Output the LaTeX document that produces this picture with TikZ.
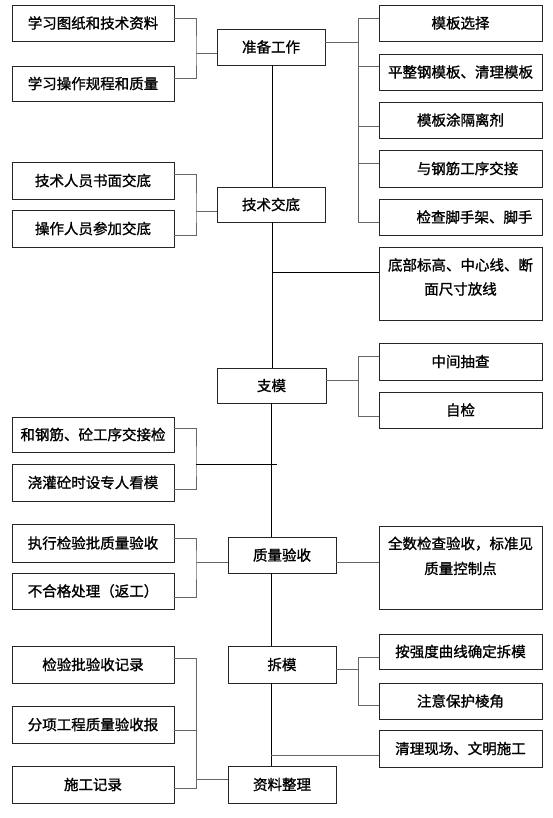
\documentclass[tikz,border=0pt]{standalone}
\usepackage{fontspec}
\setmainfont{Noto Sans CJK SC}[FakeBold=1.2]
\begin{document}
\begin{tikzpicture}[x=1pt,y=-1pt,
  box/.style={draw=black!85,line width=0.9pt,inner sep=0pt,font=\fontsize{14.5}{18}\selectfont},
  lbox/.style={box,minimum width=162pt},
  cbox/.style={box,minimum width=108pt},
  rbox/.style={box,minimum width=163pt},
  conn/.style={draw=black!60,line width=0.9pt},
  mainln/.style={draw=black,line width=0.9pt}]
\useasboundingbox[fill=white] (0,0) rectangle (553,818);

% ---------- left boxes ----------
\node[lbox,minimum height=36pt] (L1) at (93,23) {学习图纸和技术资料};
\node[lbox,minimum height=35pt] (L2) at (93,83.5) {学习操作规程和质量};
\node[lbox,minimum height=37pt] (L3) at (93,180.5) {技术人员书面交底};
\node[lbox,minimum height=37pt] (L4) at (93,228.5) {操作人员参加交底};
\node[lbox,minimum height=35pt] (L5) at (93,434.5) {和钢筋、砼工序交接检};
\node[lbox,minimum height=37pt] (L6) at (93,482.5) {浇灌砼时设专人看模};
\node[lbox,minimum height=38pt] (L7) at (93,543) {执行检验批质量验收};
\node[lbox,minimum height=36pt] (L8) at (93,591) {不合格处理（返工）};
\node[lbox,minimum height=37pt] (L9) at (93,664.5) {检验批验收记录};
\node[lbox,minimum height=37pt] (L10) at (93,724.5) {分项工程质量验收报};
\node[lbox,minimum height=37pt] (L11) at (93,784.5) {施工记录};

% ---------- centre boxes ----------
\node[cbox,minimum height=36pt] (C1) at (271,47) {准备工作};
\node[cbox,minimum height=35pt] (C2) at (271,204.5) {技术交底};
\node[cbox,minimum width=109pt,minimum height=35pt] (C3) at (271.5,385.5) {支模};
\node[cbox,minimum height=36pt] (C4) at (282,555) {质量验收};
\node[cbox,minimum height=37pt] (C5) at (282,664.5) {拆模};
\node[cbox,minimum height=37pt] (C6) at (282,784.5) {资料整理};

% ---------- right boxes ----------
\node[rbox,minimum height=36pt] (R1) at (460.5,23) {模板选择};
\node[rbox,minimum height=36pt] (R2) at (460.5,72) {平整钢模板、清理模板};
\node[rbox,minimum height=36pt] (R3) at (460.5,120) {模板涂隔离剂};
\node[rbox,minimum height=37pt] (R4) at (460.5,168.5) {\hspace*{14pt}与钢筋工序交接};
\node[rbox,minimum height=36pt] (R5) at (460.5,217) {\hspace*{28pt}检查脚手架、脚手};
\node[rbox,minimum height=73pt] (R6) at (460.5,283.5)
  {\parbox[c][73pt][t]{163pt}{\centering\fontsize{14.5}{24}\selectfont\rule{0pt}{23.5pt}底部标高、中心线、断\\面尺寸放线}};
\node[rbox,minimum height=37pt] (R7) at (460.5,361.5) {中间抽查};
\node[rbox,minimum height=36pt] (R8) at (460.5,410) {自检};
\node[rbox,minimum height=83pt] (R9) at (460.5,567.5)
  {\parbox[c][83pt][t]{163pt}{\centering\fontsize{14.5}{25}\selectfont\rule{0pt}{23pt}全数检查验收，标准见\\质量控制点}};
\node[rbox,minimum height=35pt] (R10) at (460.5,651.5) {按强度曲线确定拆模};
\node[rbox,minimum height=36pt] (R11) at (460.5,701) {注意保护棱角};
\node[rbox,minimum height=37pt] (R12) at (460.5,748.5) {清理现场、文明施工};

% ---------- guide coordinates ----------
\coordinate (mxt) at (272,0);
\coordinate (mxb) at (271,0);
\coordinate (bl) at (196,0);
\coordinate (br) at (358,0);

% ---------- main spine ----------
\draw[mainln] (C1.south -| mxt) -- (C2.north -| mxt);
\draw[mainln] (C2.south -| mxt) -- (C3.north -| mxt);
\draw[mainln] (C3.south -| mxb) -- (C4.north -| mxb);
\draw[mainln] (C4.south -| mxb) -- (C5.north -| mxb);
\draw[mainln] (C5.south -| mxb) -- (C6.north -| mxb);

% ---------- left group 1 ----------
\coordinate (l1) at ([yshift=5pt]L1.east);
\coordinate (l2) at ([yshift=5.5pt]L2.east);
\coordinate (c1l) at ([yshift=-6pt]C1.west);
\draw[conn] (l1) -| (c1l -| bl) |- (l2);
\draw[conn] (c1l -| bl) -- (c1l);

% ---------- left group 2 ----------
\coordinate (l3) at ([yshift=6.5pt]L3.east);
\coordinate (l4) at ([yshift=-6.5pt]L4.east);
\coordinate (c2l) at ([yshift=-6.5pt]C2.west);
\draw[conn] (l3) -| (c2l -| bl) |- (l4);
\draw[conn] (c2l -| bl) -- (c2l);

% ---------- left group 3 ----------
\coordinate (l5) at ([yshift=6.5pt]L5.east);
\coordinate (l6) at ([yshift=-6.5pt]L6.east);
\coordinate (sp) at (277,464);
\draw[conn] (l5) -| (sp -| bl) |- (l6);
\draw[mainln] (sp -| bl) -- (sp);

% ---------- left group 4 ----------
\coordinate (l7) at ([yshift=5pt]L7.east);
\coordinate (l8) at ([yshift=-6pt]L8.east);
\coordinate (c4l) at ([yshift=-7pt]C4.west);
\draw[conn] (l7) -| (c4l -| bl) |- (l8);
\draw[conn] (c4l -| bl) -- (c4l);

% ---------- left group 5 ----------
\coordinate (l9) at ([yshift=6.5pt]L9.east);
\coordinate (l10) at ([yshift=-5.5pt]L10.east);
\coordinate (l11) at ([yshift=-3.5pt]L11.east);
\coordinate (c6l) at ([yshift=5.5pt]C6.west);
\draw[conn] (l9) -| (l11 -| bl) -- (l11);
\draw[conn] (l10) -- (l10 -| bl);
\draw[conn] (c6l -| bl) -- (c6l);

% ---------- right group 1 ----------
\coordinate (c1r) at ([yshift=5pt]C1.east);
\coordinate (r1) at ([yshift=5pt]R1.west);
\coordinate (r2) at ([yshift=6pt]R2.west);
\coordinate (r3) at ([yshift=-6pt]R3.west);
\coordinate (r4) at ([yshift=5.5pt]R4.west);
\coordinate (r5) at ([yshift=-5pt]R5.west);
\draw[conn] (c1r) -- (c1r -| br);
\draw[conn] (r1) -| (r5 -| br) -- (r5);
\draw[conn] (r2) -- (r2 -| br);
\draw[conn] (r3) -- (r3 -| br);
\draw[conn] (r4) -- (r4 -| br);

% ---------- R6 ----------
\coordinate (r6) at ([yshift=11.5pt]R6.west);
\draw[mainln] (r6 -| mxt) -- (r6);

% ---------- right group 2 ----------
\coordinate (c3r) at ([yshift=5.5pt]C3.east);
\coordinate (r7) at ([yshift=5.5pt]R7.west);
\coordinate (r8) at ([yshift=-6pt]R8.west);
\draw[conn] (c3r) -- (c3r -| br);
\draw[conn] (r7) -| (r8 -| br) -- (r8);

% ---------- R9 ----------
\coordinate (c4r) at ([yshift=-7pt]C4.east);
\draw[conn] (c4r) -- (c4r -| R9.west);

% ---------- right group 3 ----------
\coordinate (c5r) at ([yshift=-4.5pt]C5.east);
\coordinate (r10) at ([yshift=-5.5pt]R10.west);
\coordinate (r11) at ([yshift=-4pt]R11.west);
\draw[conn] (c5r) -- (c5r -| br);
\draw[conn] (r10) -| (r11 -| br) -- (r11);

% ---------- R12 ----------
\coordinate (r12) at ([yshift=-6.5pt]R12.west);
\draw[conn] (r12 -| mxb) -- (r12);
\end{tikzpicture}
\end{document}
